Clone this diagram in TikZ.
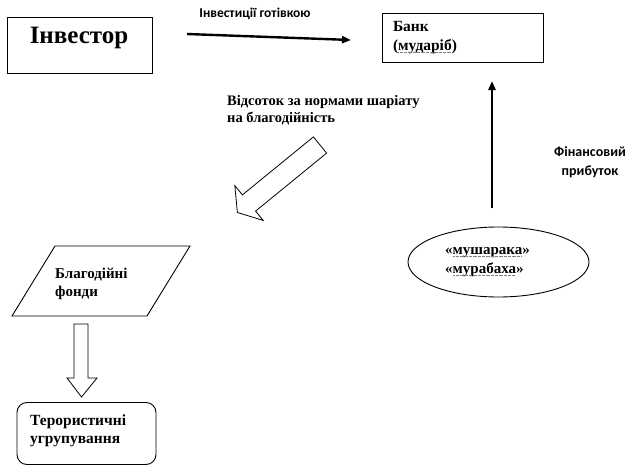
\documentclass[tikz,border=0pt]{standalone}
\usepackage{fontspec}
\setmainfont{LiberationSerif}[Extension=.ttf, UprightFont=*-Regular, BoldFont=*-Bold, ItalicFont=*-Italic, BoldItalicFont=*-BoldItalic]
\newfontfamily\lblfont{Carlito}
\usetikzlibrary{shapes.geometric,arrows.meta}
\newsavebox\sqbox
\newcommand\squig[1]{\sbox\sqbox{#1}\leavevmode\rlap{\usebox\sqbox}\raisebox{-2.2pt}{\color{gray}\leaders\hbox to 1.3pt{\hss\rule{0.7pt}{0.7pt}\hss}\hskip\wd\sqbox}}
\begin{document}
\begin{tikzpicture}[x=1pt,y=-1pt,
  box/.style={draw, line width=0.9pt, inner sep=0pt},
  txt/.style={align=left, inner sep=0pt},
  flow/.style={line width=2.4pt, -{Triangle[length=9pt,width=7pt]}},
  hollow/.style={draw, line width=0.8pt, fill=white, line join=miter}]
\useasboundingbox (0,0) rectangle (627,466);
% Investor
\node[box, minimum width=145pt, minimum height=56pt] (inv) at (79.5,45) {};
\node[txt, font=\rmfamily\fontsize{25}{30}\selectfont\bfseries] (invtxt) at (79,38) {Інвестор};
% Bank
\node[box, minimum width=161pt, minimum height=49pt, text width=139pt, inner xsep=11pt,
  align=left, font=\rmfamily\fontsize{15.5}{19}\selectfont\bfseries] (bank) at (462.5,37.5) {Банк\\(\squig{мударіб})};
% investment arrow
\coordinate (a1) at (187,34);
\coordinate (a2) at (351,40);
\draw[flow] (a1) -- (a2);
\node[font=\lblfont\bfseries\fontsize{13.5}{16}\selectfont, inner sep=0pt] (lbl1) at (255,14) {Інвестиції готівкою};
% percent text
\node[txt, anchor=west, font=\rmfamily\fontsize{14.5}{16.5}\selectfont\bfseries] (pct) at (227,110) {Відсоток за нормами шаріату\\на благодійність};
% hollow diagonal arrow
\draw[hollow] (326.6,153.1) -- (255.6,211.1) -- (263.2,220.4) -- (237.4,212.5) -- (234.8,185.6) -- (242.4,194.9) -- (313.4,136.9) -- cycle;
% financial profit
\node[align=center, inner sep=0pt, font=\lblfont\bfseries\fontsize{14}{19}\selectfont] (fin) at (590,162) {Фінансовий\\прибуток};
% ellipse
\node[draw, ellipse, line width=0.9pt, minimum width=181pt, minimum height=70pt, inner sep=0pt] (ell) at (498.5,262) {};
\node[txt, anchor=west, font=\rmfamily\fontsize{15}{19}\selectfont\bfseries] (elltxt) at (445,262.5) {«\squig{мушарака}»\\«\squig{мурабаха}»};
% vertical arrow
\coordinate (v1) at (492,208);
\coordinate (v2) at (492,81);
\draw[flow] (v1) -- (v2);
% parallelogram
\draw[line width=0.9pt] (55,246) -- (190,246) -- (147,316) -- (12,316) -- cycle;
\node[txt, anchor=west, font=\rmfamily\fontsize{15}{18}\selectfont\bfseries] (fund) at (55,284) {Благодійні\\фонди};
% down hollow arrow
\draw[hollow] (74,324) -- (88,324) -- (88,378) -- (97,378) -- (81.5,397) -- (67,378) -- (74,378) -- cycle;
% terrorist groups
\node[box, rounded corners=10pt, minimum width=139pt, minimum height=62pt] (ter) at (86.5,433.5) {};
\node[txt, anchor=west, font=\rmfamily\fontsize{15.5}{17.5}\selectfont\bfseries] (tertxt) at (30,431) {Терористичні\\угрупування};
\end{tikzpicture}
\end{document}
